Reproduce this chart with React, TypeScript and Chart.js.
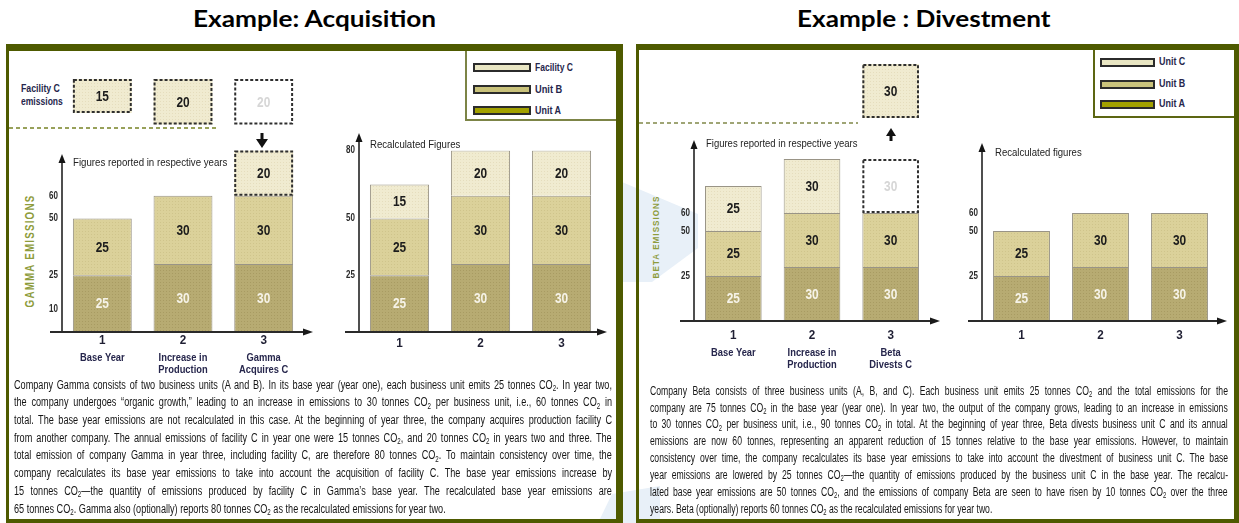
import React, { useEffect, useLayoutEffect, useRef } from 'react';
import { Chart, registerables } from 'chart.js';

Chart.register(...registerables);

// ---------------- data ----------------
const years = ['1', '2', '3'];
const gammaNotes = [['Base Year'], ['Increase in', 'Production'], ['Gamma', 'Acquires C']];
const betaNotes = [['Base Year'], ['Increase in', 'Production'], ['Beta', 'Divests C']];

const gammaFacilityC = [15, 20, 20];
const gammaReportedA = [25, 30, 30];
const gammaReportedB = [25, 30, 30];
const gammaAcquiredC = [null, null, 20];
const gammaRecalcA = [25, 30, 30];
const gammaRecalcB = [25, 30, 30];
const gammaRecalcC = [15, 20, 20];

const betaReportedA = [25, 30, 30];
const betaReportedB = [25, 30, 30];
const betaReportedC = [25, 30, null];
const betaDivestedC = [null, null, 30];
const betaRecalcA = [25, 30, 30];
const betaRecalcB = [25, 30, 30];

const gammaReportedTicks = [10, 25, 50, 60];
const gammaRecalcTicks = [25, 50, 80];
const betaTicks = [25, 50, 60];

const gammaLegend = ['Facility C', 'Unit B', 'Unit A'];
const betaLegend = ['Unit C', 'Unit B', 'Unit A'];

const gammaText = [
  'Company Gamma consists of two business units (A and B). In its base year (year one), each business unit emits 25 tonnes CO₂. In year two,',
  'the company undergoes “organic growth,” leading to an increase in emissions to 30 tonnes CO₂ per business unit, i.e., 60 tonnes CO₂ in',
  'total. The base year emissions are not recalculated in this case. At the beginning of year three, the company acquires production facility C',
  'from another company. The annual emissions of facility C in year one were 15 tonnes CO₂, and 20 tonnes CO₂ in years two and three. The',
  'total emission of company Gamma in year three, including facility C, are therefore 80 tonnes CO₂. To maintain consistency over time, the',
  'company recalculates its base year emissions to take into account the acquisition of facility C. The base year emissions increase by',
  '15 tonnes CO₂—the quantity of emissions produced by facility C in Gamma’s base year. The recalculated base year emissions are',
  '65 tonnes CO₂. Gamma also (optionally) reports 80 tonnes CO₂ as the recalculated emissions for year two.',
];
const betaText = [
  'Company Beta consists of three business units (A, B, and C). Each business unit emits 25 tonnes CO₂ and the total emissions for the',
  'company are 75 tonnes CO₂ in the base year (year one). In year two, the output of the company grows, leading to an increase in emissions',
  'to 30 tonnes CO₂ per business unit, i.e., 90 tonnes CO₂ in total. At the beginning of year three, Beta divests business unit C and its annual',
  'emissions are now 60 tonnes, representing an apparent reduction of 15 tonnes relative to the base year emissions. However, to maintain',
  'consistency over time, the company recalculates its base year emissions to take into account the divestment of business unit C. The base',
  'year emissions are lowered by 25 tonnes CO₂—the quantity of emissions produced by the business unit C in the base year. The recalcu-',
  'lated base year emissions are 50 tonnes CO₂, and the emissions of company Beta are seen to have risen by 10 tonnes CO₂ over the three',
  'years. Beta (optionally) reports 60 tonnes CO₂ as the recalculated emissions for year two.',
];

// ---------------- styles ----------------
const FONT = '"Liberation Sans", Arial, sans-serif';
const NAVY = '#26264c';
const DARK = '#1c1c1c';
const LIGHT = '#f6f3e8';
const GHOST = '#d6d6d6';
const OLIVE = '#4e5a00';
const AXIS_TITLE = '#8e9c3c';
const EDGE = 'rgba(70,60,35,0.55)';
const BAR_COLORS: any = {
  A: ['#b7ab72', '#a89b62'],
  B: ['#dbd19a', '#cfc48b'],
  C: ['#f0ebd0', '#e5ddbd'],
};
const SWATCH: any = { C: '#e9e6c3', B: '#c9c27b', A: '#a2a100' };

function makePattern(base: string, dot: string) {
  const c = document.createElement('canvas');
  c.width = 3;
  c.height = 3;
  const g = c.getContext('2d')!;
  g.fillStyle = base;
  g.fillRect(0, 0, 3, 3);
  g.fillStyle = dot;
  g.fillRect(1, 1, 1, 1);
  return g.createPattern(c, 'repeat');
}

function drawText(ctx: any, text: string, x: number, y: number, font: string, color: string, sx: number, align: string) {
  ctx.save();
  ctx.translate(x, y);
  ctx.scale(sx, 1);
  ctx.font = font;
  ctx.fillStyle = color;
  ctx.textAlign = align;
  ctx.textBaseline = 'middle';
  ctx.fillText(text, 0, 0);
  ctx.restore();
}

const decorPlugin = {
  id: 'decor',
  afterDatasetsDraw(chart: any) {
    const o = chart.options.plugins.decor || {};
    const ctx = chart.ctx;
    const area = chart.chartArea;
    chart.data.datasets.forEach((ds: any, di: number) => {
      const meta = chart.getDatasetMeta(di);
      meta.data.forEach((el: any, i: number) => {
        const v = ds.data[i];
        if (v === null || v === undefined) return;
        const p = el.getProps(['x', 'y', 'base', 'width'], true);
        const t = Math.min(p.y, p.base);
        const b = Math.max(p.y, p.base);
        if (ds.dashed && ds.dashed[i]) {
          ctx.save();
          ctx.setLineDash([3, 2]);
          ctx.lineWidth = 2;
          ctx.strokeStyle = '#2e2e2e';
          ctx.strokeRect(p.x - p.width / 2 + 1, t + 1, p.width - 2, b - t - 2);
          ctx.restore();
        }
        const lc = Array.isArray(ds.labelColor) ? ds.labelColor[i] : ds.labelColor;
        drawText(ctx, String(v), p.x, (t + b) / 2 + 1, 'bold 14px ' + FONT, lc, 0.85, 'center');
      });
    });
    if (o.axes) {
      const { yTop, xLeft, xRight } = o.axes;
      const ax = area.left;
      const ay = area.bottom;
      const tipY = area.top + yTop;
      ctx.save();
      ctx.strokeStyle = '#151515';
      ctx.fillStyle = '#151515';
      ctx.lineWidth = 1.5;
      ctx.beginPath();
      ctx.moveTo(ax, ay);
      ctx.lineTo(ax, tipY + 6);
      ctx.stroke();
      ctx.beginPath();
      ctx.moveTo(ax, tipY);
      ctx.lineTo(ax - 3.5, tipY + 9);
      ctx.lineTo(ax + 3.5, tipY + 9);
      ctx.closePath();
      ctx.fill();
      const xl = area.left - xLeft;
      const xr = area.right + xRight;
      ctx.strokeStyle = '#2a2a2a';
      ctx.lineWidth = 2;
      ctx.beginPath();
      ctx.moveTo(xl, ay);
      ctx.lineTo(xr - 6, ay);
      ctx.stroke();
      ctx.fillStyle = '#1a1a1a';
      ctx.beginPath();
      ctx.moveTo(xr, ay);
      ctx.lineTo(xr - 10, ay - 3.5);
      ctx.lineTo(xr - 10, ay + 3.5);
      ctx.closePath();
      ctx.fill();
      ctx.restore();
    }
    if (o.yTicks) {
      const ys = chart.scales.y;
      ys.ticks.forEach((tk: any) => {
        drawText(ctx, String(tk.value), area.left - 4, ys.getPixelForValue(tk.value), 'bold 10px ' + FONT, '#2a2a2a', 0.8, 'right');
      });
    }
    if (o.xTickDy !== undefined) {
      const xs = chart.scales.x;
      xs.ticks.forEach((tk: any, i: number) => {
        drawText(ctx, String(xs.getLabelForValue(tk.value)), xs.getPixelForTick(i), area.bottom + o.xTickDy, 'bold 13px ' + FONT, '#1f1f33', 0.9, 'center');
      });
    }
    if (o.notes) {
      const xs = chart.scales.x;
      o.notes.forEach((lines: string[], i: number) => {
        lines.forEach((ln: string, k: number) => {
          drawText(ctx, ln, xs.getPixelForTick(i), area.bottom + o.notesDy + k * 12, 'bold 11px ' + FONT, NAVY, 0.85, 'center');
        });
      });
    }
  },
};

type DS = { data: (number | null)[]; fill: any; labelColor: any; dashed?: boolean[] };
type Spec = {
  left: number; top: number; width: number; height: number;
  padTop: number; padRight: number; padBottom: number; yW: number; xH: number;
  yMax: number; reverse?: boolean; yTicks?: number[]; barPct: number;
  axes?: { yTop: number; xLeft: number; xRight: number };
  xTickDy?: number; notes?: string[][]; notesDy?: number;
  datasets: DS[];
};

function ChartBox({ spec }: { spec: Spec }) {
  const ref = useRef<HTMLCanvasElement>(null);
  useEffect(() => {
    const canvas = ref.current!;
    const pats: any = {};
    Object.keys(BAR_COLORS).forEach((k) => (pats[k] = makePattern(BAR_COLORS[k][0], BAR_COLORS[k][1])));
    const fillFor = (k: string) => (k === 'W' ? '#ffffff' : pats[k]);
    const chart = new Chart(canvas, {
      type: 'bar',
      data: {
        labels: years,
        datasets: spec.datasets.map((d) => ({
          data: d.data,
          backgroundColor: Array.isArray(d.fill) ? d.fill.map(fillFor) : fillFor(d.fill),
          borderColor: EDGE,
          borderWidth: d.data.map((_, i) => (d.dashed && d.dashed[i] ? 0 : 1)),
          borderSkipped: 'start',
          barPercentage: spec.barPct,
          categoryPercentage: 1,
          stack: 's',
          labelColor: d.labelColor,
          dashed: d.dashed,
        })) as any,
      },
      options: {
        responsive: false,
        maintainAspectRatio: false,
        animation: false,
        events: [],
        layout: { padding: { top: spec.padTop, right: spec.padRight, bottom: spec.padBottom, left: 0 } },
        plugins: {
          legend: { display: false },
          tooltip: { enabled: false },
          decor: {
            axes: spec.axes,
            yTicks: !!spec.yTicks,
            xTickDy: spec.xTickDy,
            notes: spec.notes,
            notesDy: spec.notesDy,
          },
        } as any,
        scales: {
          x: {
            stacked: true,
            grid: { display: false, drawTicks: false },
            border: { display: false },
            ticks: { display: false },
            afterFit: (s: any) => {
              s.height = spec.xH;
            },
          },
          y: {
            stacked: true,
            min: 0,
            max: spec.yMax,
            reverse: !!spec.reverse,
            grid: { display: false, drawTicks: false },
            border: { display: false },
            ticks: { display: false },
            afterBuildTicks: (s: any) => {
              if (spec.yTicks) s.ticks = spec.yTicks.map((v) => ({ value: v }));
            },
            afterFit: (s: any) => {
              s.width = spec.yW;
            },
          },
        } as any,
      },
      plugins: [decorPlugin as any],
    });
    return () => chart.destroy();
  }, []);
  return (
    <canvas
      ref={ref}
      width={spec.width}
      height={spec.height}
      style={{ position: 'absolute', left: spec.left, top: spec.top, width: spec.width, height: spec.height }}
    />
  );
}

// ---------------- chart specs ----------------
const facilityTop: Spec = {
  left: 36, top: 70, width: 284, height: 70, padTop: 9, padRight: 16, padBottom: 4.25, yW: 26, xH: 0,
  yMax: 25, reverse: true, barPct: 0.73,
  datasets: [{ data: gammaFacilityC, fill: ['C', 'C', 'W'], labelColor: [DARK, DARK, GHOST], dashed: [true, true, true] }],
};
const gammaReported: Spec = {
  left: 36, top: 140, width: 284, height: 240, padTop: 10.4, padRight: 16, padBottom: 0, yW: 26, xH: 48,
  yMax: 80, yTicks: gammaReportedTicks, barPct: 0.73, axes: { yTop: 3.6, xLeft: 12, xRight: 9 },
  xTickDy: 8, notes: gammaNotes, notesDy: 26,
  datasets: [
    { data: gammaReportedA, fill: 'A', labelColor: LIGHT },
    { data: gammaReportedB, fill: 'B', labelColor: DARK },
    { data: gammaAcquiredC, fill: 'C', labelColor: DARK, dashed: [false, false, true] },
  ],
};
const gammaRecalc: Spec = {
  left: 333, top: 125, width: 279, height: 255, padTop: 25.4, padRight: 10, padBottom: 0, yW: 26, xH: 48,
  yMax: 80, yTicks: gammaRecalcTicks, barPct: 0.73, axes: { yTop: -17.4, xLeft: 14, xRight: 5 },
  xTickDy: 11,
  datasets: [
    { data: gammaRecalcA, fill: 'A', labelColor: LIGHT },
    { data: gammaRecalcB, fill: 'B', labelColor: DARK },
    { data: gammaRecalcC, fill: 'C', labelColor: DARK },
  ],
};
const betaTop: Spec = {
  left: 668, top: 56, width: 276, height: 68, padTop: 8, padRight: 14, padBottom: 2.4, yW: 26, xH: 0,
  yMax: 32, reverse: true, barPct: 0.72,
  datasets: [{ data: betaDivestedC, fill: 'C', labelColor: DARK, dashed: [true, true, true] }],
};
const betaReported: Spec = {
  left: 668, top: 130, width: 276, height: 239, padTop: 29, padRight: 14, padBottom: 0, yW: 26, xH: 48,
  yMax: 90, yTicks: betaTicks, barPct: 0.72, axes: { yTop: -19, xLeft: 14, xRight: 10 },
  xTickDy: 14, notes: betaNotes, notesDy: 32,
  datasets: [
    { data: betaReportedA, fill: 'A', labelColor: LIGHT },
    { data: betaReportedB, fill: 'B', labelColor: DARK },
    { data: betaReportedC, fill: 'C', labelColor: DARK },
    { data: betaDivestedC, fill: 'W', labelColor: GHOST, dashed: [true, true, true] },
  ],
};
const betaRecalc: Spec = {
  left: 956, top: 130, width: 274, height: 239, padTop: 29, padRight: 11, padBottom: 0, yW: 26, xH: 48,
  yMax: 90, yTicks: betaTicks, barPct: 0.72, axes: { yTop: -16, xLeft: 14, xRight: 8 },
  xTickDy: 14,
  datasets: [
    { data: betaRecalcA, fill: 'A', labelColor: LIGHT },
    { data: betaRecalcB, fill: 'B', labelColor: DARK },
  ],
};

// ---------------- text helpers ----------------
function withSub(text: string) {
  const parts = text.split('₂');
  const out: any[] = [];
  parts.forEach((p, i) => {
    out.push(p);
    if (i < parts.length - 1)
      out.push(
        <span key={i} style={{ fontSize: '68%', position: 'relative', top: '0.28em' }}>
          2
        </span>
      );
  });
  return out;
}

function Line(props: {
  text: string; x: number; y: number; w?: number; size?: number; bold?: boolean; color?: string;
  mode?: 'fit' | 'justify' | 'scale'; scale?: number; family?: string;
}) {
  const { text, x, y, w, size = 11, bold = false, color = DARK, mode = 'fit', scale = 0.8, family = FONT } = props;
  const ref = useRef<HTMLSpanElement>(null);
  useLayoutEffect(() => {
    const el = ref.current!;
    el.style.transform = 'none';
    el.style.wordSpacing = '0px';
    const nat = el.offsetWidth;
    let s = scale;
    let ws = 0;
    if (mode === 'fit' && w) s = w / nat;
    else if (mode === 'justify' && w) {
      const n = text.split(' ').length - 1;
      const extra = w / s - nat;
      if (extra >= 0 && n > 0) ws = extra / n;
      else s = w / nat;
    } else if (mode === 'scale' && w && nat * s > w) s = w / nat;
    el.style.wordSpacing = ws + 'px';
    el.style.transform = `scaleX(${s})`;
  }, [text, w, mode, scale]);
  return (
    <span
      ref={ref}
      style={{
        position: 'absolute', left: x, top: y - size * 0.7, whiteSpace: 'nowrap', fontFamily: family,
        fontSize: size, fontWeight: bold ? 700 : 400, color, lineHeight: `${size * 1.4}px`, transformOrigin: 'left center',
      }}
    >
      {withSub(text)}
    </span>
  );
}

function VLine(props: { text: string; cx: number; cy: number; len: number; size: number; spacing: number; color: string }) {
  const { text, cx, cy, len, size, spacing, color } = props;
  const ref = useRef<HTMLSpanElement>(null);
  useLayoutEffect(() => {
    const el = ref.current!;
    el.style.transform = 'none';
    const nat = el.offsetWidth;
    el.style.transform = `translate(-50%,-50%) rotate(-90deg) scaleX(${len / nat})`;
  }, [text, len]);
  return (
    <span
      ref={ref}
      style={{
        position: 'absolute', left: cx, top: cy, whiteSpace: 'nowrap', fontFamily: FONT, fontSize: size,
        fontWeight: 700, letterSpacing: spacing, color, lineHeight: `${size + 2}px`,
      }}
    >
      {text}
    </span>
  );
}

function Legend(props: { items: string[]; keys: string[]; box: any; swX: number; swW: number; rows: number[]; textW: number[]; border: string }) {
  const { items, keys, box, swX, swW, rows, textW, border } = props;
  return (
    <>
      <div
        style={{
          position: 'absolute', left: box.left, top: box.top, width: box.width, height: box.height, boxSizing: 'border-box',
          borderLeft: `2px solid ${border}`, borderBottom: `2px solid ${border}`, background: '#fff',
        }}
      />
      {items.map((it, i) => (
        <React.Fragment key={it}>
          <div
            style={{
              position: 'absolute', left: swX, top: rows[i] - 4.5, width: swW, height: 9, boxSizing: 'border-box',
              border: '2px solid #2b2b2b', background: SWATCH[keys[i]],
            }}
          />
          <Line text={it} x={swX + swW + 4} y={rows[i]} w={textW[i]} size={11} bold color={NAVY} />
        </React.Fragment>
      ))}
    </>
  );
}

export default function App() {
  return (
    <div
      style={{
        position: 'fixed', left: 0, top: 0, width: 1239, height: 523, background: '#ffffff', overflow: 'hidden',
      }}
    >
      {/* watermark shapes */}
      <svg width={1239} height={523} style={{ position: 'absolute', left: 0, top: 0 }}>
        <polygon points="622,182 698,214 698,248 652,282 622,282" fill="#e8f0f8" />
        <polygon points="598,523 612,494 660,486 660,523" fill="#e8f0f8" />
      </svg>

      {/* titles */}
      <Line text="Example: Acquisition" x={193} y={19} w={243} size={22} bold color="#000" family="Lato, 'Open Sans', sans-serif" />
      <Line text="Example : Divestment" x={797} y={19} w={253} size={22} bold color="#000" family="Lato, 'Open Sans', sans-serif" />

      {/* panels */}
      <div
        style={{
          position: 'absolute', left: 6, top: 44, width: 617, height: 479, boxSizing: 'border-box',
          borderLeft: `3px solid ${OLIVE}`, borderTop: `7px solid ${OLIVE}`, borderRight: `7px solid ${OLIVE}`,
          borderBottom: `4px solid ${OLIVE}`,
        }}
      />
      <div
        style={{
          position: 'absolute', left: 636, top: 44, width: 603, height: 479, boxSizing: 'border-box',
          borderLeft: `3px solid ${OLIVE}`, borderTop: `6px solid ${OLIVE}`, borderRight: `5px solid ${OLIVE}`,
          borderBottom: `4px solid ${OLIVE}`,
        }}
      />

      {/* legends */}
      <Legend
        items={gammaLegend}
        keys={['C', 'B', 'A']}
        box={{ left: 465, top: 51, width: 151, height: 70 }}
        swX={473}
        swW={58}
        rows={[67.5, 89.5, 110.5]}
        textW={[38, 27, 26]}
        border="#7c8446"
      />
      <Legend
        items={betaLegend}
        keys={['C', 'B', 'A']}
        box={{ left: 1093, top: 50, width: 141, height: 68 }}
        swX={1100}
        swW={55}
        rows={[62, 84, 104]}
        textW={[26, 26, 26]}
        border="#5c6612"
      />

      {/* facility label */}
      <Line text="Facility C" x={21} y={89} w={39} size={11} bold color={NAVY} />
      <Line text="emissions" x={21} y={102} w={42} size={11} bold color={NAVY} />

      {/* axis titles */}
      <VLine text="GAMMA EMISSIONS" cx={30} cy={251} len={113} size={12} spacing={1.5} color={AXIS_TITLE} />
      <VLine text="BETA EMISSIONS" cx={655.5} cy={237} len={83} size={9} spacing={1.2} color={AXIS_TITLE} />

      {/* charts */}
      <ChartBox spec={facilityTop} />
      <ChartBox spec={gammaReported} />
      <ChartBox spec={gammaRecalc} />
      <ChartBox spec={betaTop} />
      <ChartBox spec={betaReported} />
      <ChartBox spec={betaRecalc} />

      {/* chart subtitles */}
      <Line text="Figures reported in respective years" x={73} y={163} w={154} size={11} color="#222" />
      <Line text="Recalculated Figures" x={370} y={145} w={90} size={11} color="#222" />
      <Line text="Figures reported in respective years" x={706} y={144} w={151} size={11} color="#222" />
      <Line text="Recalculated figures" x={995} y={153} w={87} size={11} color="#222" />

      {/* separators and arrows */}
      <svg width={1239} height={523} style={{ position: 'absolute', left: 0, top: 0, pointerEvents: 'none' }}>
        <line x1={9} y1={128} x2={218} y2={128} stroke="#98a15a" strokeWidth={2} strokeDasharray="4 3" />
        <line x1={639} y1={123} x2={858} y2={123} stroke="#808848" strokeWidth={1.5} strokeDasharray="4 3" />
        <rect x={260.5} y={133} width={3} height={7} fill="#111" />
        <polygon points="256,139 268,139 262,148" fill="#111" />
        <polygon points="886,136 896,136 891,128" fill="#111" />
        <rect x={889.5} y={135} width={3} height={6} fill="#111" />
      </svg>

      {/* paragraphs */}
      {gammaText.map((t, i) => (
        <Line
          key={'g' + i}
          text={t}
          x={14}
          y={385 + i * 17.7}
          w={598}
          size={12}
          color="#141414"
          mode={i === gammaText.length - 1 ? 'scale' : 'justify'}
          scale={0.76}
        />
      ))}
      {betaText.map((t, i) => (
        <Line
          key={'b' + i}
          text={t}
          x={650}
          y={391 + i * 16.9}
          w={578}
          size={12}
          color="#141414"
          mode={i === betaText.length - 1 ? 'scale' : 'justify'}
          scale={0.72}
        />
      ))}
    </div>
  );
}
